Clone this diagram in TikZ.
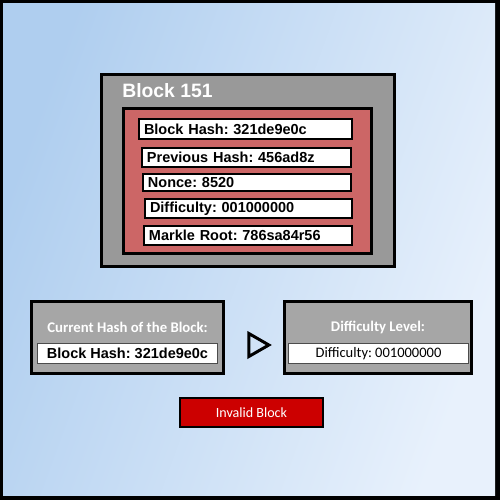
\documentclass[tikz,border=0pt]{standalone}
\usepackage{fontspec}
\setmainfont{Liberation Sans}
\newfontfamily\calibri{Carlito}
\usetikzlibrary{shapes.geometric}
\frenchspacing

\definecolor{bgleft}{HTML}{AFCEEF}
\definecolor{bgright}{HTML}{E8F1FC}
\definecolor{blockgrey}{HTML}{999999}
\definecolor{headerred}{HTML}{CC6666}
\definecolor{panelgrey}{HTML}{A6A6A6}
\definecolor{alertred}{HTML}{CC0000}

\begin{document}
\begin{tikzpicture}[x=0.2mm, y=-0.2mm,
	field/.style={draw, fill=white, line width=1.1pt, inner xsep=1mm, inner ysep=0pt, align=left, font=\fontsize{8.25}{9}\selectfont\bfseries},
	panel/.style={draw, fill=panelgrey, line width=1.7pt, inner sep=0pt, minimum height=14.4mm},
	entry/.style={draw=black!70, fill=white, line width=0.6pt, inner sep=0pt, minimum width=36mm, minimum height=4mm},
	paneltitle/.style={text=white, inner sep=0pt, font=\calibri\bfseries\fontsize{8.4}{10}\selectfont}]
	\fill[black] (0,0) rectangle (500,500);
	\shade[left color=bgleft, right color=bgright, shading angle=70] (3,3) rectangle (495,495);
	\useasboundingbox (0,0) rectangle (500,500);
	% the block
	\node[draw, fill=blockgrey, line width=1.7pt, minimum width=58.6mm, minimum height=38.4mm] (block) at (248,170.5) {};
	\node[anchor=west, text=white, inner sep=0pt, font=\fontsize{11}{13}\selectfont\bfseries] (blockname) at (122,91) {Block 151};
	\node[draw, fill=headerred, line width=1.7pt, minimum width=49.6mm, minimum height=29mm] (header) at (247.5,181) {};
	\node[field, text width=40.6mm, minimum height=4mm] (hash) at (245.5,129) {Block Hash: 321de9e0c};
	\node[field, text width=39.8mm, minimum height=3.8mm] (prevhash) at (246.5,157.5) {Previous Hash: 456ad8z};
	\node[field, text width=39.6mm, minimum height=3.4mm] (nonce) at (247,182.5) {Nonce: 8520};
	\node[field, text width=39.4mm, minimum height=3.8mm] (difficulty) at (248.5,208.5) {Difficulty: 001000000};
	\node[field, text width=39.6mm, minimum height=3.8mm] (merkle) at (248,235.5) {Markle Root: 786sa84r56};
	% the check
	\node[panel, minimum width=38.4mm] (current) at (127.5,337.5) {};
	\node[paneltitle] (currenttitle) at (127.5,327) {Current Hash of the Block:};
	\node[entry, font=\fontsize{8.25}{10}\selectfont\bfseries] (currenthash) at (127.5,353.5) {Block Hash: 321de9e0c};
	\node[isosceles triangle, isosceles triangle stretches, draw, line width=1.7pt, inner sep=0pt, minimum width=4.6mm, minimum height=4.0mm] (compare) at (255.5,345) {};
	\node[panel, minimum width=37.4mm] (level) at (378,337.5) {};
	\node[paneltitle] (leveltitle) at (378,327) {Difficulty Level:};
	\node[entry, font=\calibri\fontsize{8.25}{10}\selectfont] (levelvalue) at (378.5,353.5) {Difficulty: 001000000};
	\node[draw, fill=alertred, line width=1.2pt, minimum width=28.6mm, minimum height=5.8mm, text=white, font=\calibri\fontsize{8}{10}\selectfont] (invalid) at (251.5,412.5) {Invalid Block};
\end{tikzpicture}
\end{document}
